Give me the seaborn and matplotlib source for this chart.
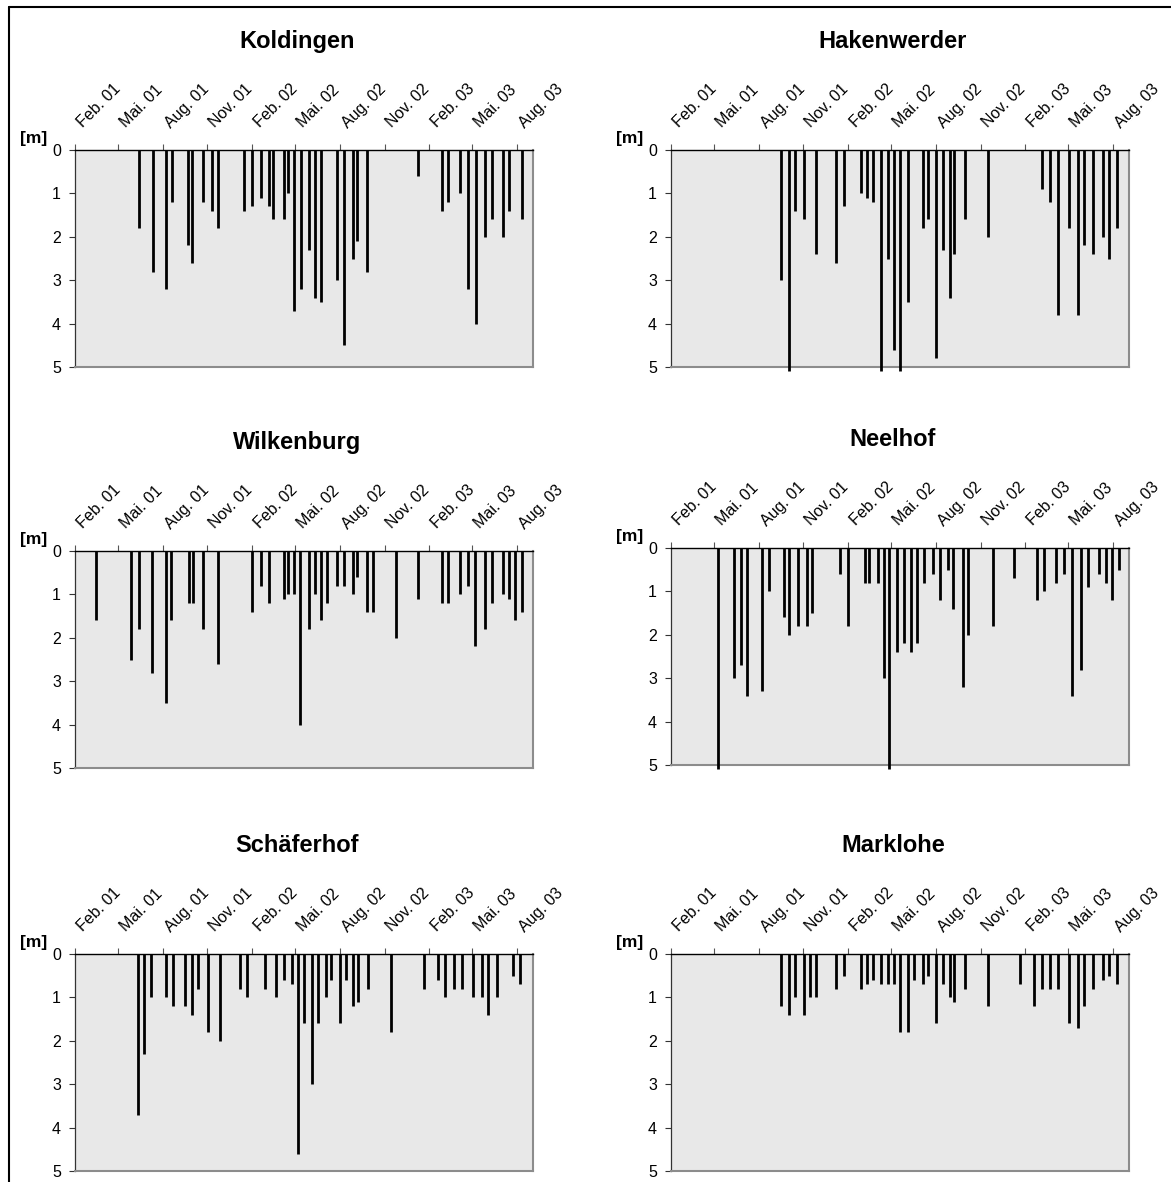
import pandas as pd
import matplotlib
matplotlib.use("Agg")
import matplotlib.pyplot as plt
from matplotlib.lines import Line2D
from matplotlib.transforms import ScaledTranslation
import seaborn as sns

stations = ["Koldingen", "Hakenwerder", "Wilkenburg", "Neelhof", "Schäferhof", "Marklohe"]

koldingen_dates = ["2001-06-13", "2001-07-11", "2001-08-08", "2001-08-19", "2001-09-22", "2001-10-01",
                   "2001-10-23", "2001-11-10", "2001-11-22", "2002-01-15", "2002-01-31", "2002-02-20",
                   "2002-03-08", "2002-03-16", "2002-04-08", "2002-04-16", "2002-04-28", "2002-05-12",
                   "2002-05-29", "2002-06-10", "2002-06-24", "2002-07-25", "2002-08-09", "2002-08-28",
                   "2002-09-05", "2002-09-25", "2003-01-09", "2003-02-27", "2003-03-11", "2003-04-05",
                   "2003-04-22", "2003-05-08", "2003-05-28", "2003-06-10", "2003-07-03", "2003-07-16",
                   "2003-08-12"]
koldingen_depth = [1.8, 2.8, 3.2, 1.2, 2.2, 2.6, 1.2, 1.4, 1.8, 1.4, 1.3, 1.1, 1.3, 1.6, 1.6, 1.0, 3.7,
                   3.2, 2.3, 3.4, 3.5, 3.0, 4.5, 2.5, 2.1, 2.8, 0.6, 1.4, 1.2, 1.0, 3.2, 4.0, 2.0, 1.6,
                   2.0, 1.4, 1.6]

hakenwerder_dates = ["2001-09-16", "2001-10-02", "2001-10-14", "2001-11-02", "2001-11-27", "2002-01-08",
                     "2002-01-23", "2002-02-28", "2002-03-11", "2002-03-24", "2002-04-09", "2002-04-24",
                     "2002-05-07", "2002-05-19", "2002-06-04", "2002-07-05", "2002-07-15", "2002-08-02",
                     "2002-08-16", "2002-08-30", "2002-09-08", "2002-09-29", "2002-11-16", "2003-03-07",
                     "2003-03-25", "2003-04-10", "2003-05-03", "2003-05-20", "2003-06-03", "2003-06-21",
                     "2003-07-11", "2003-07-24", "2003-08-10"]
hakenwerder_depth = [3.0, 5.1, 1.4, 1.6, 2.4, 2.6, 1.3, 1.0, 1.1, 1.2, 5.1, 2.5, 4.6, 5.1, 3.5, 1.8, 1.6,
                     4.8, 2.3, 3.4, 2.4, 1.6, 2.0, 0.9, 1.2, 3.8, 1.8, 3.8, 2.2, 2.4, 2.0, 2.5, 1.8]

wilkenburg_dates = ["2001-03-17", "2001-05-27", "2001-06-12", "2001-07-10", "2001-08-08", "2001-08-18",
                    "2001-09-24", "2001-10-02", "2001-10-22", "2001-11-22", "2002-01-31", "2002-02-20",
                    "2002-03-08", "2002-04-08", "2002-04-16", "2002-04-28", "2002-05-11", "2002-05-29",
                    "2002-06-11", "2002-06-24", "2002-07-06", "2002-07-25", "2002-08-09", "2002-08-28",
                    "2002-09-05", "2002-09-25", "2002-10-08", "2002-11-25", "2003-01-09", "2003-02-27",
                    "2003-03-11", "2003-04-05", "2003-04-22", "2003-05-07", "2003-05-28", "2003-06-10",
                    "2003-07-03", "2003-07-16", "2003-07-28", "2003-08-12"]
wilkenburg_depth = [1.6, 2.5, 1.8, 2.8, 3.5, 1.6, 1.2, 1.2, 1.8, 2.6, 1.4, 0.8, 1.2, 1.1, 1.0, 1.0, 4.0,
                    1.8, 1.0, 1.6, 1.2, 0.8, 0.8, 1.0, 0.6, 1.4, 1.4, 2.0, 1.1, 1.2, 1.2, 1.0, 0.8, 2.2,
                    1.8, 1.2, 1.0, 1.1, 1.6, 1.4]

neelhof_dates = ["2001-05-08", "2001-06-10", "2001-06-25", "2001-07-08", "2001-08-08", "2001-08-21",
                 "2001-09-22", "2001-10-02", "2001-10-21", "2001-11-09", "2001-11-19", "2002-01-16",
                 "2002-02-01", "2002-03-08", "2002-03-16", "2002-04-03", "2002-04-15", "2002-04-27",
                 "2002-05-12", "2002-05-28", "2002-06-11", "2002-06-24", "2002-07-07", "2002-07-25",
                 "2002-08-09", "2002-08-26", "2002-09-05", "2002-09-25", "2002-10-07", "2002-11-26",
                 "2003-01-09", "2003-02-26", "2003-03-12", "2003-04-06", "2003-04-23", "2003-05-08",
                 "2003-05-28", "2003-06-11", "2003-07-04", "2003-07-17", "2003-07-30", "2003-08-13"]
neelhof_depth = [5.1, 3.0, 2.7, 3.4, 3.3, 1.0, 1.6, 2.0, 1.8, 1.8, 1.5, 0.6, 1.8, 0.8, 0.8, 0.8, 3.0, 5.1,
                 2.4, 2.2, 2.4, 2.2, 0.8, 0.6, 1.2, 0.5, 1.4, 3.2, 2.0, 1.8, 0.7, 1.2, 1.0, 0.8, 0.6, 3.4,
                 2.8, 0.9, 0.6, 0.8, 1.2, 0.5]

schaeferhof_dates = ["2001-06-10", "2001-06-24", "2001-07-08", "2001-08-08", "2001-08-21", "2001-09-15",
                     "2001-10-01", "2001-10-13", "2001-11-02", "2001-11-26", "2002-01-07", "2002-01-22",
                     "2002-02-27", "2002-03-23", "2002-04-08", "2002-04-24", "2002-05-06", "2002-05-18",
                     "2002-06-04", "2002-06-17", "2002-07-04", "2002-07-14", "2002-08-02", "2002-08-14",
                     "2002-08-29", "2002-09-07", "2002-09-27", "2002-11-15", "2003-01-21", "2003-02-19",
                     "2003-03-06", "2003-03-24", "2003-04-10", "2003-05-02", "2003-05-20", "2003-06-02",
                     "2003-06-20", "2003-07-23", "2003-08-08"]
schaeferhof_depth = [3.7, 2.3, 1.0, 1.0, 1.2, 1.2, 1.4, 0.8, 1.8, 2.0, 0.8, 1.0, 0.8, 1.0, 0.6, 0.7, 4.6,
                     1.6, 3.0, 1.6, 1.0, 0.6, 1.6, 0.6, 1.2, 1.1, 0.8, 1.8, 0.8, 0.6, 1.0, 0.8, 0.8, 1.0,
                     1.0, 1.4, 1.0, 0.5, 0.7]

marklohe_dates = ["2001-09-16", "2001-10-02", "2001-10-14", "2001-11-02", "2001-11-15", "2001-11-27",
                  "2002-01-08", "2002-01-23", "2002-02-28", "2002-03-11", "2002-03-24", "2002-04-09",
                  "2002-04-24", "2002-05-07", "2002-05-19", "2002-06-04", "2002-06-17", "2002-07-05",
                  "2002-07-15", "2002-08-02", "2002-08-16", "2002-08-30", "2002-09-08", "2002-09-29",
                  "2002-11-16", "2003-01-22", "2003-02-20", "2003-03-08", "2003-03-25", "2003-04-10",
                  "2003-05-03", "2003-05-20", "2003-06-03", "2003-06-21", "2003-07-11", "2003-07-24",
                  "2003-08-10"]
marklohe_depth = [1.2, 1.4, 1.0, 1.4, 1.0, 1.0, 0.8, 0.5, 0.8, 0.7, 0.6, 0.7, 0.7, 0.7, 1.8, 1.8, 0.6,
                  0.7, 0.5, 1.6, 0.7, 1.0, 1.1, 0.8, 1.2, 0.7, 1.2, 0.8, 0.8, 0.8, 1.6, 1.7, 1.2, 0.8,
                  0.6, 0.5, 0.7]

tick_dates = ["2001-02-01", "2001-05-01", "2001-08-01", "2001-11-01", "2002-02-01", "2002-05-01",
              "2002-08-01", "2002-11-01", "2003-02-01", "2003-05-01", "2003-08-01"]
tick_labels = ["Feb. 01", "Mai. 01", "Aug. 01", "Nov. 01", "Feb. 02", "Mai. 02",
               "Aug. 02", "Nov. 02", "Feb. 03", "Mai. 03", "Aug. 03"]
depth_ticks = [0, 1, 2, 3, 4, 5]

all_dates = [koldingen_dates, hakenwerder_dates, wilkenburg_dates, neelhof_dates,
             schaeferhof_dates, marklohe_dates]
all_depth = [koldingen_depth, hakenwerder_depth, wilkenburg_depth, neelhof_depth,
             schaeferhof_depth, marklohe_depth]

frames = []
for name, d, v in zip(stations, all_dates, all_depth):
    frames.append(pd.DataFrame({"station": name, "date": pd.to_datetime(d), "depth": v}))
df = pd.concat(frames, ignore_index=True)

sns.set_theme(style="white")
plt.rcParams["font.family"] = ["Liberation Sans", "DejaVu Sans"]
plt.rcParams["text.color"] = "black"
plt.rcParams["xtick.color"] = "black"
plt.rcParams["ytick.color"] = "black"

W, H = 1171, 1182
fig = plt.figure(figsize=(W / 100, H / 100), dpi=100)

# panel boxes in pixels: left, top
lefts = [75, 671, 75, 671, 75, 671]
tops = [150, 150, 551, 548, 954, 954]
pw, ph = 458, 217
tick_fs = 11.5

for i, name in enumerate(stations):
    left, top = lefts[i], tops[i]
    ax = fig.add_axes([left / W, 1 - (top + ph) / H, pw / W, ph / H])
    ax.set_facecolor("#e8e8e8")
    sub = df[df["station"] == name]
    ax.vlines(sub["date"], 0, sub["depth"], color="black", lw=2.0, clip_on=False, zorder=3)

    ax.set_xlim(pd.Timestamp("2001-02-01"), pd.Timestamp("2003-09-03"))
    ax.set_ylim(5, 0)
    ax.set_yticks(depth_ticks)
    ax.set_yticklabels([str(t) for t in depth_ticks])

    ax.xaxis.tick_top()
    ax.set_xticks(pd.to_datetime(tick_dates))
    ax.set_xticklabels(tick_labels, rotation=45, ha="left", va="bottom",
                       rotation_mode="anchor")
    ax.tick_params(axis="x", which="both", top=True, bottom=False, direction="out",
                   length=4, width=0.8, color="#555555", pad=10,
                   labelsize=tick_fs, labelcolor="black")
    ax.tick_params(axis="y", left=True, direction="out", length=4, width=0.8,
                   color="#333333", pad=6, labelsize=tick_fs, labelcolor="black")
    for lab in ax.get_xticklabels():
        lab.set_transform(lab.get_transform() + ScaledTranslation(10 / 100, 0, fig.dpi_scale_trans))

    ax.spines["top"].set_color("black")
    ax.spines["top"].set_linewidth(1.0)
    ax.spines["left"].set_color("#333333")
    ax.spines["left"].set_linewidth(0.9)
    ax.spines["bottom"].set_color("#8c8c8c")
    ax.spines["bottom"].set_linewidth(1.5)
    ax.spines["right"].set_color("#8c8c8c")
    ax.spines["right"].set_linewidth(1.5)
    ax.grid(False)

    fig.text((left + pw / 2 - 7) / W, 1 - (top - 102) / H, name, fontsize=17,
             fontweight="bold", ha="center", va="baseline", color="black")
    fig.text((left - 28) / W, 1 - (top - 7) / H, "[m]", fontsize=12.5,
             fontweight="bold", ha="right", va="baseline", color="black")

# frame around the figure (left and top edges visible)
fig.add_artist(Line2D([8.5 / W, 8.5 / W], [0, 1 - 6.5 / H], transform=fig.transFigure,
                      color="black", lw=1.5))
fig.add_artist(Line2D([8.5 / W, 1], [1 - 6.5 / H, 1 - 6.5 / H], transform=fig.transFigure,
                      color="black", lw=1.5))

fig.savefig("out.png", dpi=100)
